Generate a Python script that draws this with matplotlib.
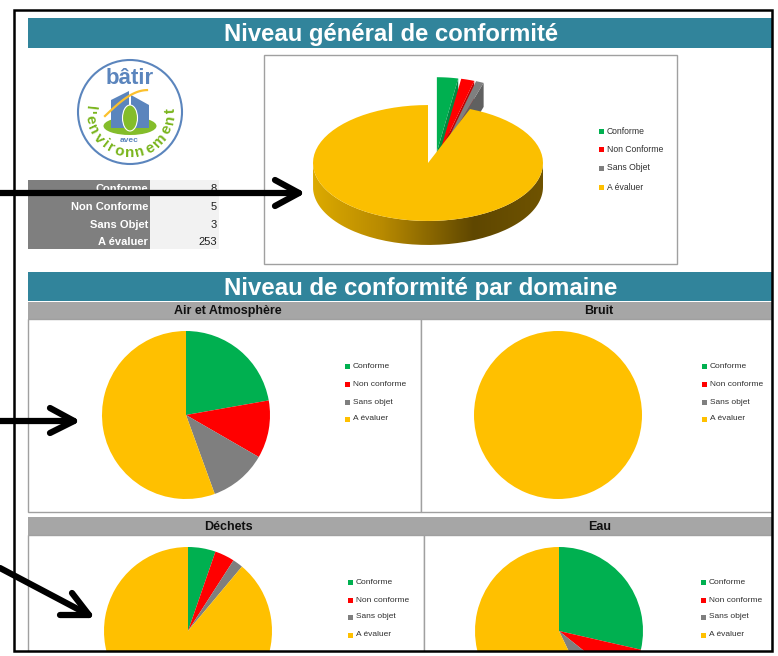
import matplotlib
matplotlib.use('Agg')
import numpy as np
import matplotlib.pyplot as plt
from matplotlib.colors import LinearSegmentedColormap
from matplotlib.patches import Circle, Ellipse, PathPatch, Polygon, Rectangle
from matplotlib.path import Path
from matplotlib.textpath import TextPath

plt.rcParams['font.family'] = ['Liberation Sans', 'DejaVu Sans']

colors = ['#00b050', '#ff0000', '#7f7f7f', '#ffc000']
wall_colors = ['#008a40', '#c00000', '#606060']

general_labels = ['Conforme', 'Non Conforme', 'Sans Objet', 'A évaluer']
general_values = [8, 5, 3, 253]
domain_labels = ['Conforme', 'Non conforme', 'Sans objet', 'A évaluer']
air_values = [2, 1, 1, 5]
bruit_values = [0, 0, 0, 1]
dechets_values = [5.3, 3.8, 2, 88.9]
eau_values = [4, 1, 1, 8]

fig = plt.figure(figsize=(7.78, 6.56), dpi=100)
ax = fig.add_axes([0, 0, 1, 1])


def fix_axes():
    # pixel coordinates of the picture, y going down
    ax.set_xlim(0, 778)
    ax.set_ylim(656, 0)
    ax.set_aspect('auto')
    ax.axis('off')


def box(x0, y0, x1, y1, fc='white', ec='none', lw=1, z=1):
    ax.add_patch(Rectangle((x0, y0), x1 - x0, y1 - y0, fc=fc, ec=ec, lw=lw, zorder=z))


def legend(labels, x, ys, size=6.0):
    for label, color, y in zip(labels, colors, ys):
        box(x - 2.5, y - 2.5, x + 2.5, y + 2.5, fc=color, z=3)
        ax.text(x + 5, y, label, fontsize=size, color='#303030', va='center', ha='left', zorder=3)


def flat_pie(values, cx, cy, r=84):
    # starting at -90 counterclockwise on a flipped y axis: clockwise from the top
    wedges, _ = ax.pie(values, colors=colors, center=(cx, cy), radius=r, startangle=-90,
                       counterclock=True, wedgeprops={'linewidth': 0})
    for w in wedges:
        w.set_zorder(2)


def arc(a0, a1, cx, cy, r=115, tilt=0.504):
    t = np.linspace(a0, a1, 80)
    return np.column_stack([cx + r * np.sin(t), cy - r * tilt * np.cos(t)])


def exploded_slice(a0, a1, color, wall, dist=20, depth=24):
    # the pulled out slices stand taller than the flat rim in the original
    mid = (a0 + a1) / 2
    cx = 435 + dist * np.sin(mid)
    cy = 162 - dist * 0.504 * np.cos(mid)
    rim = arc(a0, a1, cx, cy, tilt=0.65)
    top = np.vstack([[cx, cy], rim])
    ax.add_patch(Polygon([(cx, cy), rim[-1], rim[-1] + [0, depth], (cx, cy + depth)],
                         fc=wall, ec='none', zorder=3))
    ax.add_patch(Polygon(top, fc=color, ec='none', zorder=3))


def pie_3d(values):
    cuts = np.cumsum(values) / np.sum(values) * 2 * np.pi
    starts = [0, cuts[0], cuts[1]]
    for i in [0, 1, 2]:
        exploded_slice(starts[i], cuts[i], colors[i], wall_colors[i])
    cx, cy, depth = 428, 163, 24
    # side wall of the big slice, dark gradient clipped to the lower rim
    rim = arc(np.pi / 2, 3 * np.pi / 2, cx, cy)
    side = np.vstack([rim, (rim + [0, depth])[::-1]])
    cmap = LinearSegmentedColormap.from_list('side', [(0, '#dcaa00'), (0.3, '#b88a00'),
                                                      (0.7, '#5f4700'), (1, '#6f5300')])
    im = ax.imshow(np.linspace(0, 1, 256)[None, :], extent=(313, 543, 250, 160), cmap=cmap,
                   aspect='auto', zorder=4)
    clip = PathPatch(Path(side), transform=ax.transData, fc='none', ec='none')
    ax.add_patch(clip)
    im.set_clip_path(clip)
    top = np.vstack([[cx, cy], arc(cuts[2], 2 * np.pi, cx, cy)])
    ax.add_patch(Polygon(top, fc='#fbbf00', ec='none', zorder=5))


def curved_text(text, cx, cy, r, start, stop, size, color):
    fp = {'family': 'Liberation Sans', 'weight': 'bold'}
    widths = []
    for ch in text:
        tp = TextPath((0, 0), ch, size=size, prop=fp)
        widths.append(tp.get_extents().width + size * 0.16)
    pos = (np.cumsum(widths) - np.array(widths) / 2) / np.sum(widths)
    for ch, p in zip(text, pos):
        phi = start + (stop - start) * p
        a = np.radians(phi)
        ax.text(cx + r * np.sin(a), cy + r * np.cos(a), ch, fontsize=size, color=color, weight='bold',
                rotation=phi, rotation_mode='anchor', ha='center', va='baseline', zorder=4)


def logo(cx=130, cy=112):
    blue, green = '#5b85bd', '#7ab51d'
    ax.add_patch(Circle((cx, cy), 52, fc='white', ec=blue, lw=1.5, zorder=2))
    ax.add_patch(Ellipse((cx, cy + 14), 53, 18, fc='#84bd2a', ec='none', zorder=3))
    ax.add_patch(Polygon([(111, 100), (129, 91), (129, 128), (111, 128)], fc=blue, ec='none', zorder=3))
    ax.add_patch(Polygon([(131, 95), (149, 105), (149, 128), (131, 128)], fc=blue, ec='none', zorder=3))
    t = np.linspace(0, 1, 30)
    ax.plot(105 + 42 * t, 116 - 28 * np.sin(t * 1.5) + 2 * t, color='#fbc02d', lw=1.6, zorder=4)
    ax.add_patch(Ellipse((130, 118), 15, 26, fc='#84bd2a', ec='white', lw=0.8, zorder=5))
    ax.text(cx, 79, 'bâtir', fontsize=16, color=blue, weight='bold', ha='center', va='center', zorder=4)
    ax.text(cx - 1, 141, 'avec', fontsize=6, color=blue, weight='bold', ha='center', va='center', zorder=4)
    curved_text("l'environnement", cx, cy, 45, -100, 97, 11, green)


def table(labels, values):
    box(28, 180, 150, 249, fc='#7f7f7f')
    box(150, 180, 219, 249, fc='#f2f2f2')
    for label, value, y in zip(labels, values, [189.5, 207, 225, 242]):
        ax.text(148, y, label, fontsize=8, color='white', weight='bold', ha='right', va='center', zorder=2)
        ax.text(217, y, str(value), fontsize=8, color='#202020', ha='right', va='center', zorder=2)


def arrow(tail, tip, barbs):
    kw = dict(color='black', lw=4.5, solid_capstyle='round', solid_joinstyle='round', zorder=9)
    ax.plot([tail[0], tip[0]], [tail[1], tip[1]], **kw)
    ax.plot([barbs[0][0], tip[0], barbs[1][0]], [barbs[0][1], tip[1], barbs[1][1]], **kw)


# banners
box(28, 18, 772, 48, fc='#31849b')
box(28, 272, 772, 301, fc='#31849b')
ax.text(391, 34.5, 'Niveau général de conformité', color='white', fontsize=17.2, weight='bold',
        ha='center', va='center', zorder=3)
ax.text(421, 289, 'Niveau de conformité par domaine', color='white', fontsize=17.3, weight='bold',
        ha='center', va='center', zorder=3)

# general block
logo()
table(general_labels, general_values)
box(264, 55, 677, 264, ec='#a0a0a0')
pie_3d(general_values)
legend(general_labels, 602, [131, 149, 168, 187], size=6.2)

# domain headers and panels
box(28, 302, 772, 319, fc='#a6a6a6')
box(28, 517, 772, 535, fc='#a6a6a6')
for title, x, y in [('Air et Atmosphère', 228, 311), ('Bruit', 599, 311), ('Déchets', 228, 527), ('Eau', 600, 527)]:
    ax.text(x, y, title, fontsize=9, weight='bold', color='#101010', ha='center', va='center', zorder=3)
box(28, 319, 421, 512, ec='#a0a0a0')
box(421, 319, 772, 512, ec='#a0a0a0')
box(28, 535, 424, 660, ec='#a0a0a0')
box(424, 535, 772, 660, ec='#a0a0a0')

flat_pie(air_values, 186, 415)
flat_pie(bruit_values, 558, 415)
flat_pie(dechets_values, 188, 631)
flat_pie(eau_values, 559, 631)
legend(domain_labels, 348, [366, 384, 402, 419])
legend(domain_labels, 705, [366, 384, 402, 419])
legend(domain_labels, 351, [582, 600, 617, 635])
legend(domain_labels, 704, [582, 600, 617, 635])

# page crop: the sheet stops at the black frame
box(0, 652, 778, 656, z=6)
box(773, 0, 778, 656, z=6)
box(0, 0, 13, 656, z=6)
box(14, 10, 772, 651, fc='none', ec='black', lw=1.8, z=7)

arrow((0, 193), (299, 193), [(275, 180), (275, 206)])
arrow((0, 421), (74, 421), [(50, 408), (50, 433)])
arrow((0, 568), (89, 615), [(72, 593), (60, 615)])

fix_axes()
fig.savefig('out.png', dpi=100)
